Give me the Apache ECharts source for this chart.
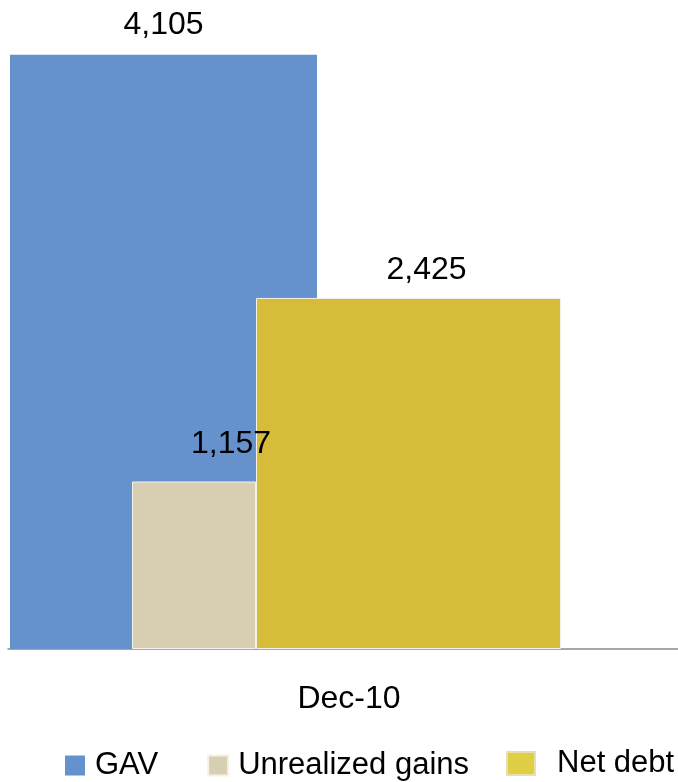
<!DOCTYPE html>
<html><head><meta charset="utf-8">
<script src="https://cdn.jsdelivr.net/npm/echarts@6/dist/echarts.min.js"></script>
<style>html,body{margin:0;padding:0;background:#fff}#c{width:678px;height:782px}</style>
</head><body><div id="c"></div>
<script>
const categories = ['Dec-10'];
const seriesNames = ['GAV', 'Unrealized gains', 'Net debt'];
const gavValues = [4105];
const unrealizedValues = [1157];
const netDebtValues = [2425];

const colors = ['#6592cc', '#d8cfb2', '#d7bc3a'];
const FONT = '"Liberation Sans", Arial, sans-serif';
const fmt = p => Number(p.value).toLocaleString('en-US');
const TOP = 41, BOTTOM = 133, YMAX = 4200;

const grids = [
  {left: 8, right: 0, top: TOP, bottom: BOTTOM},
  {left: 10, width: 307, top: TOP, bottom: BOTTOM},
  {left: 132, width: 124, top: TOP, bottom: BOTTOM},
  {left: 256, width: 305, top: TOP, bottom: BOTTOM}
];
const xAxes = grids.map((g, i) => ({
  type: 'category', gridIndex: i, data: categories,
  show: i === 0,
  axisLine: {show: i === 0, lineStyle: {color: '#8c8c8c', width: 1.5}},
  axisTick: {show: false},
  axisLabel: {show: i === 0, color: '#000', fontFamily: FONT, fontSize: 32, margin: 34, padding: [0,0,0,12]}
}));
const yAxes = grids.map((g, i) => ({
  type: 'value', gridIndex: i, min: 0, max: YMAX, show: false, splitLine: {show: false}
}));
const valueLists = [gavValues, unrealizedValues, netDebtValues];
const labelOffsets = [[0, -2], [37, -9], [18, 0]];
const series = seriesNames.map((name, i) => ({
  name, type: 'bar', xAxisIndex: i + 1, yAxisIndex: i + 1,
  data: valueLists[i], barWidth: '100%', barCategoryGap: 0,
  itemStyle: {color: colors[i], borderColor: i === 0 ? colors[0] : '#f4f1e6', borderWidth: i === 0 ? 0 : 1},
  label: {show: true, position: 'top', distance: 12, offset: labelOffsets[i], formatter: fmt,
          color: '#000', fontFamily: FONT, fontSize: 32},
  z: 2
}));

const option = {
  animation: false,
  grid: grids,
  xAxis: xAxes,
  yAxis: yAxes,
  legend: [
    {data: ['GAV', 'Unrealized gains'], left: 60, top: 745, itemWidth: 20, itemHeight: 20, itemGap: 49,
     icon: 'rect', textStyle: {color: '#000', fontFamily: FONT, fontSize: 31, padding: [0,0,0,5]}},
    {data: ['Net debt'], left: 501, top: 743, itemWidth: 28, itemHeight: 23,
     icon: 'rect', itemStyle: {color: '#e0cf45', borderColor: '#e8dfb0', borderWidth: 2},
     textStyle: {color: '#000', fontFamily: FONT, fontSize: 31, padding: [0,0,0,17]}}
  ],
  series
};
const chart = echarts.init(document.getElementById('c'), null, {renderer: 'canvas'});
chart.setOption(option);
</script></body></html>
